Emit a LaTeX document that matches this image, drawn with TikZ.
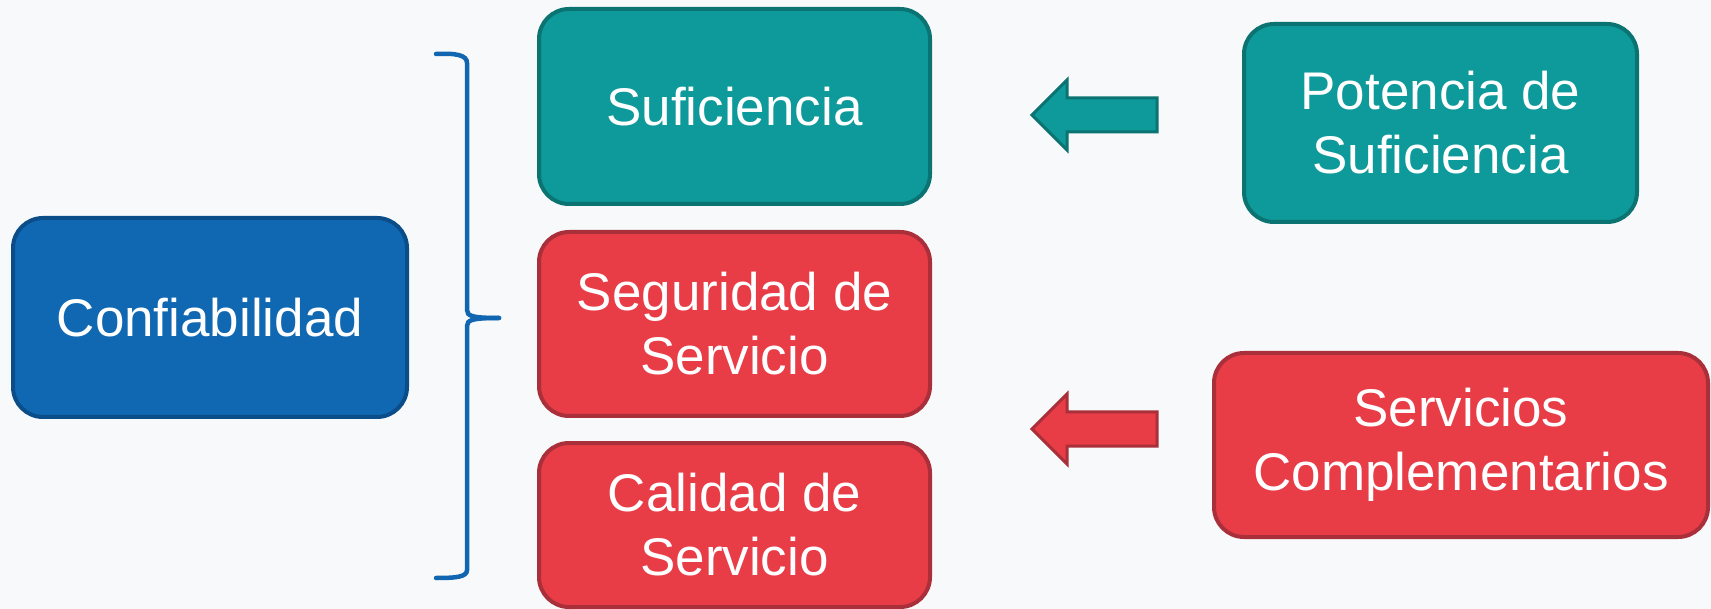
\documentclass[tikz,border=0pt]{standalone}
\usepackage{fontspec}
\setmainfont{Liberation Sans}
\definecolor{bg}{HTML}{F8F9FA}
\definecolor{tealF}{HTML}{0E9A9A}
\definecolor{tealD}{HTML}{0B7372}
\definecolor{redF}{HTML}{E83C47}
\definecolor{redD}{HTML}{A9303A}
\definecolor{blueF}{HTML}{1068B2}
\definecolor{blueD}{HTML}{0B4D88}
\definecolor{braceC}{HTML}{1066B0}
\tikzset{
  box/.style={rectangle, rounded corners=30pt, line width=4pt, text=white,
    align=center, inner sep=0pt, font=\fontsize{53}{64}\selectfont},
  tealbox/.style={box, fill=tealF, draw=tealD},
  redbox/.style={box, fill=redF, draw=redD},
  bluebox/.style={box, fill=blueF, draw=blueD},
  tealarrow/.style={fill=tealF, draw=tealD, line width=3pt, line join=miter},
  redarrow/.style={fill=redF, draw=redD, line width=3pt, line join=miter},
  bracestyle/.style={draw=braceC, line width=4.5pt, line cap=round}
}
\begin{document}
\begin{tikzpicture}[x=1pt,y=-1pt]
\fill[bg] (0,0) rectangle (1711,609);
\useasboundingbox (0,0) rectangle (1711,609);
\node[bluebox, minimum width=394pt, minimum height=199pt] (conf) at (210,317.5) {Confiabilidad};
\node[tealbox, minimum width=391pt, minimum height=195pt] (suf) at (734.5,106.5) {Suficiencia};
\node[redbox, minimum width=391pt, minimum height=184pt] (seg) at (734.5,324) {Seguridad de\\Servicio};
\node[redbox, minimum width=391pt, minimum height=164pt] (cal) at (734.5,525) {Calidad de\\Servicio};
\node[tealbox, minimum width=393pt, minimum height=198pt] (pot) at (1440.5,123) {Potencia de\\Suficiencia};
\node[redbox, minimum width=494pt, minimum height=184pt] (serv) at (1461,445) {Servicios\\Complementarios};
% block arrows
\draw[tealarrow] (1032,115) -- (1067,80) -- (1067,98) -- (1157,98) -- (1157,132) -- (1067,132) -- (1067,150) -- cycle;
\draw[redarrow] (1032,429) -- (1067,394) -- (1067,412) -- (1157,412) -- (1157,446) -- (1067,446) -- (1067,464) -- cycle;
% brace
\draw[bracestyle] (436,54) .. controls (456,53) and (467,55) .. (467,63) -- (467,310)
  .. controls (467,316) and (472,318) .. (499,318);
\draw[bracestyle] (499,318) .. controls (472,318) and (467,320) .. (467,326) -- (467,570)
  .. controls (467,577) and (456,578) .. (436,578);
\end{tikzpicture}
\end{document}
